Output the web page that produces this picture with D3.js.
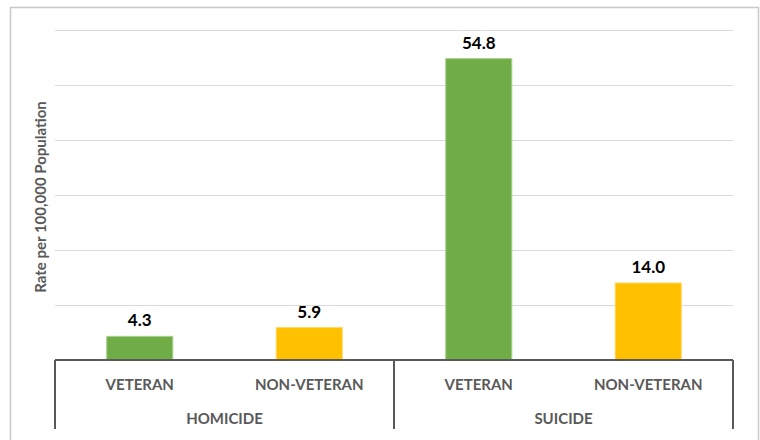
<!DOCTYPE html>
<html>
<head>
<meta charset="utf-8">
<script src="https://cdn.jsdelivr.net/npm/d3@7"></script>
<style>
  html, body { margin: 0; padding: 0; background: #fff; }
  svg { display: block; font-family: Lato, "Open Sans", sans-serif; }
</style>
</head>
<body>
<svg id="chart" width="760" height="440"></svg>
<script>
// Rate per 100,000 population, by cause of death and veteran status
const groups = ["HOMICIDE", "SUICIDE"];
const statuses = ["VETERAN", "NON-VETERAN"];
const homicideRates = [4.3, 5.9];
const suicideRates = [54.8, 14.0];
const yTicks = [0, 10, 20, 30, 40, 50, 60];
const statusColors = ["#70AD47", "#FFC000"];
const statusStrokes = ["#A9D18E", "#FFD966"];

const rows = [];
groups.forEach((g, gi) => {
  const vals = gi === 0 ? homicideRates : suicideRates;
  statuses.forEach((s, si) => rows.push({ group: g, status: s, si, value: vals[si], key: g + "|" + s }));
});

const svg = d3.select("#chart");
const plot = { left: 55, right: 733, top: 30, bottom: 360 };

// outer chart frame
svg.append("rect")
  .attr("x", 10.5).attr("y", 7.5)
  .attr("width", 748).attr("height", 450)
  .attr("fill", "#fff").attr("stroke", "#c8c8c8").attr("stroke-width", 1.5);

const x = d3.scaleBand()
  .domain(rows.map(d => d.key))
  .range([plot.left, plot.right])
  .paddingInner(0.61)
  .paddingOuter(0.305);

const y = d3.scaleLinear().domain([0, 60]).range([plot.bottom, plot.top]);

// horizontal gridlines
svg.append("g")
  .attr("transform", `translate(${plot.left},0)`)
  .call(d3.axisLeft(y).tickValues(yTicks.filter(t => t > 0)).tickSize(-(plot.right - plot.left)).tickFormat(""))
  .call(g => g.select(".domain").remove())
  .call(g => g.selectAll(".tick line").attr("stroke", "#d9d9d9").attr("stroke-width", 1.2));

// bars
svg.append("g").selectAll("rect")
  .data(rows)
  .join("rect")
  .attr("x", d => x(d.key))
  .attr("y", d => y(d.value))
  .attr("width", x.bandwidth())
  .attr("height", d => y(0) - y(d.value))
  .attr("fill", d => statusColors[d.si])
  .attr("stroke", d => statusStrokes[d.si])
  .attr("stroke-width", 1);

// value labels
svg.append("g").selectAll("text")
  .data(rows)
  .join("text")
  .attr("x", d => x(d.key) + x.bandwidth() / 2)
  .attr("y", d => y(d.value) - 10)
  .attr("text-anchor", "middle")
  .attr("font-size", 17)
  .attr("font-weight", "bold")
  .attr("fill", "#000")
  .text(d => d.value.toFixed(1));

// category axis: baseline plus group separators
const axisColor = "#595959";
const sepBottom = 429;
svg.append("line")
  .attr("x1", plot.left).attr("x2", plot.right)
  .attr("y1", plot.bottom).attr("y2", plot.bottom)
  .attr("stroke", axisColor).attr("stroke-width", 2);

const groupEdges = [plot.left, (plot.left + plot.right) / 2, plot.right];
svg.append("g").selectAll("line")
  .data(groupEdges)
  .join("line")
  .attr("x1", d => d).attr("x2", d => d)
  .attr("y1", plot.bottom).attr("y2", sepBottom)
  .attr("stroke", axisColor).attr("stroke-width", 2);

// status labels
svg.append("g").selectAll("text")
  .data(rows)
  .join("text")
  .attr("x", d => x(d.key) + x.bandwidth() / 2)
  .attr("y", 385)
  .attr("dy", "0.35em")
  .attr("text-anchor", "middle")
  .attr("font-size", 15)
  .attr("font-weight", "bold")
  .attr("fill", axisColor)
  .text(d => d.status);

// group labels
svg.append("g").selectAll("text")
  .data(groups)
  .join("text")
  .attr("x", (d, i) => (groupEdges[i] + groupEdges[i + 1]) / 2)
  .attr("y", 419)
  .attr("dy", "0.35em")
  .attr("text-anchor", "middle")
  .attr("font-size", 15)
  .attr("font-weight", "bold")
  .attr("fill", axisColor)
  .text(d => d);

// y axis title
svg.append("text")
  .attr("transform", `translate(41,${(plot.top + plot.bottom) / 2 + 2}) rotate(-90)`)
  .attr("text-anchor", "middle")
  .attr("dy", "0.35em")
  .attr("font-size", 15)
  .attr("font-weight", "bold")
  .attr("fill", axisColor)
  .text("Rate per 100,000 Population");
</script>
</body>
</html>
